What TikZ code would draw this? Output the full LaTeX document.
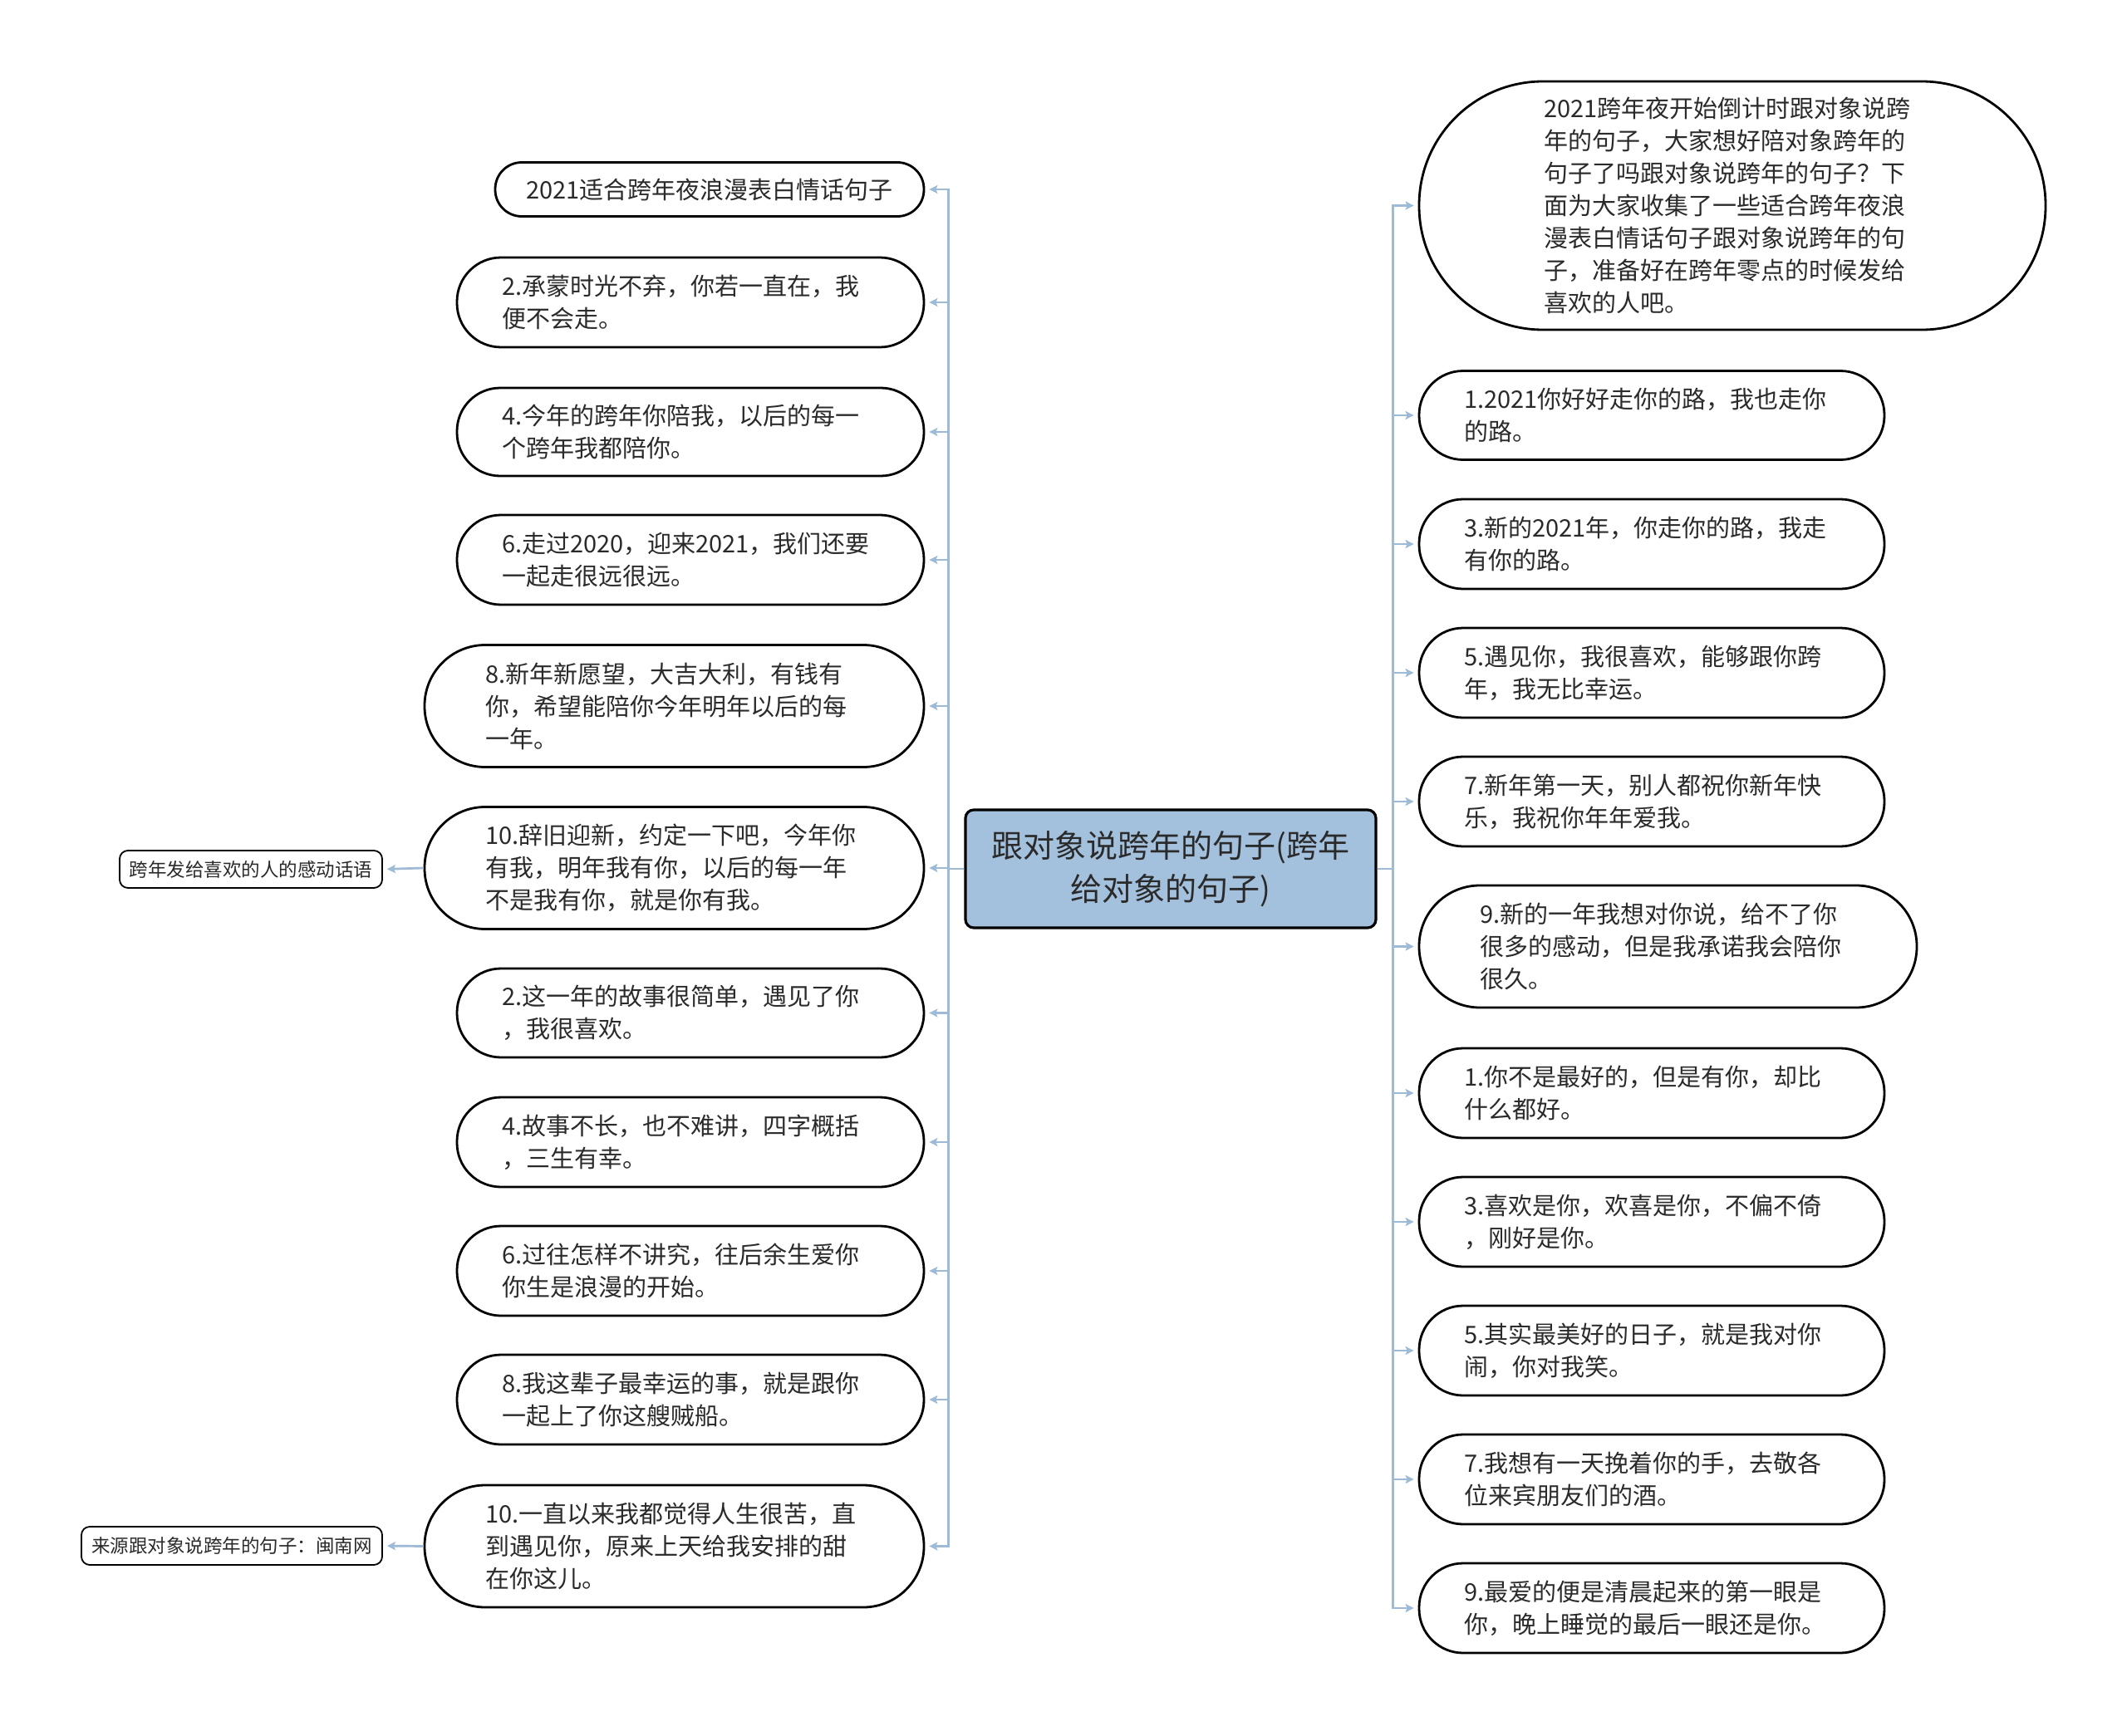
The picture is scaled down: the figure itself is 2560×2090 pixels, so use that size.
\documentclass[tikz,border=0pt]{standalone}
\usepackage{fontspec}
\newfontfamily\cjk{Noto Sans CJK SC}
\usetikzlibrary{arrows.meta}
\definecolor{linkc}{HTML}{9DBAD7}
\definecolor{rootfill}{HTML}{A3C0DC}
\definecolor{txt}{HTML}{2A2A2A}
\tikzset{
  leaf/.style={draw=black, line width=2.8pt, fill=white, text=txt, align=left, inner xsep=0pt, inner ysep=0pt,
    font=\cjk\fontsize{29}{39}\selectfont},
  dims/.style n args={4}{minimum width=#1pt, text width=#2pt, minimum height=#3pt, rounded corners=#4pt},
  small/.style={draw=black, line width=1.8pt, fill=white, text=txt, inner xsep=0pt, inner ysep=0pt,
    rounded corners=10pt, font=\cjk\fontsize{22.5}{28}\selectfont},
  rootbox/.style={draw=black, line width=3.2pt, fill=rootfill, text=txt, align=center, rounded corners=10pt,
    minimum width=494pt, minimum height=142pt, inner sep=0pt, font=\cjk\fontsize{38}{52}\selectfont},
  conn/.style={draw=linkc, line width=2.7pt, -{Stealth[length=10pt,width=10pt,inset=2pt]}, shorten >=5pt}
}
\begin{document}
\begin{tikzpicture}[x=1pt,y=-1pt]
\useasboundingbox (0,0) rectangle (2560,2090);
\fill[white] (0,0) rectangle (2560,2090);

\node[rootbox] (root) at (1409,1046) {跟对象说跨年的句子(跨年\\给对象的句子)};

% left branch
\node[leaf, dims={516}{480}{65}{32}, align=center] (L1) at (854,228) {2021适合跨年夜浪漫表白情话句子};
\node[leaf, dims={562}{454}{108}{53}] (L2) at (831,364) {2.承蒙时光不弃，你若一直在，我\\便不会走。};
\node[leaf, dims={562}{454}{106}{52}] (L3) at (831,520) {4.今年的跨年你陪我，以后的每一\\个跨年我都陪你。};
\node[leaf, dims={562}{454}{108}{53}] (L4) at (831,674) {6.走过2020，迎来2021，我们还要\\一起走很远很远。};
\node[leaf, dims={601}{455}{147}{73}] (L5) at (811.5,850) {8.新年新愿望，大吉大利，有钱有\\你，希望能陪你今年明年以后的每\\一年。};
\node[leaf, dims={601}{455}{147}{73}] (L6) at (811.5,1045) {10.辞旧迎新，约定一下吧，今年你\\有我，明年我有你，以后的每一年\\不是我有你，就是你有我。};
\node[leaf, dims={562}{454}{107}{53}] (L7) at (831,1219.5) {2.这一年的故事很简单，遇见了你\\，我很喜欢。};
\node[leaf, dims={562}{454}{108}{53}] (L8) at (831,1375) {4.故事不长，也不难讲，四字概括\\，三生有幸。};
\node[leaf, dims={562}{454}{108}{53}] (L9) at (831,1530) {6.过往怎样不讲究，往后余生爱你\\你生是浪漫的开始。};
\node[leaf, dims={562}{454}{108}{53}] (L10) at (831,1685) {8.我这辈子最幸运的事，就是跟你\\一起上了你这艘贼船。};
\node[leaf, dims={601}{455}{147}{73}] (L11) at (811.5,1861.5) {10.一直以来我都觉得人生很苦，直\\到遇见你，原来上天给我安排的甜\\在你这儿。};

\node[small, minimum width=316pt, minimum height=45pt] (S1) at (302,1046.5) {跨年发给喜欢的人的感动话语};
\node[small, minimum width=362pt, minimum height=46pt] (S2) at (279,1861) {来源跟对象说跨年的句子：闽南网};

% right branch
\node[leaf, dims={754}{454}{299}{149}] (R0) at (2085,247.5) {2021跨年夜开始倒计时跟对象说跨\\年的句子，大家想好陪对象跨年的\\句子了吗跟对象说跨年的句子？下\\面为大家收集了一些适合跨年夜浪\\漫表白情话句子跟对象说跨年的句\\子，准备好在跨年零点的时候发给\\喜欢的人吧。};
\node[leaf, dims={560}{452}{107}{53}] (R1) at (1988,500) {1.2021你好好走你的路，我也走你\\的路。};
\node[leaf, dims={560}{452}{108}{53}] (R2) at (1988,655) {3.新的2021年，你走你的路，我走\\有你的路。};
\node[leaf, dims={560}{452}{108}{53}] (R3) at (1988,810) {5.遇见你，我很喜欢，能够跟你跨\\年，我无比幸运。};
\node[leaf, dims={560}{452}{108}{53}] (R4) at (1988,965) {7.新年第一天，别人都祝你新年快\\乐，我祝你年年爱我。};
\node[leaf, dims={599}{453}{147}{73}] (R5) at (2007.5,1139.5) {9.新的一年我想对你说，给不了你\\很多的感动，但是我承诺我会陪你\\很久。};
\node[leaf, dims={560}{452}{108}{53}] (R6) at (1988,1316) {1.你不是最好的，但是有你，却比\\什么都好。};
\node[leaf, dims={560}{452}{108}{53}] (R7) at (1988,1471) {3.喜欢是你，欢喜是你，不偏不倚\\，刚好是你。};
\node[leaf, dims={560}{452}{108}{53}] (R8) at (1988,1626) {5.其实最美好的日子，就是我对你\\闹，你对我笑。};
\node[leaf, dims={560}{452}{108}{53}] (R9) at (1988,1781) {7.我想有一天挽着你的手，去敬各\\位来宾朋友们的酒。};
\node[leaf, dims={560}{452}{108}{53}] (R10) at (1988,1936) {9.最爱的便是清晨起来的第一眼是\\你，晚上睡觉的最后一眼还是你。};

% connectors
\foreach \n in {L1,L2,L3,L4,L5,L6,L7,L8,L9,L10,L11}
  \draw[conn] (root.west) -- ++(-19,0) |- (\n.east);
\foreach \n in {R0,R1,R2,R3,R4,R5,R6,R7,R8,R9,R10}
  \draw[conn] (root.east) -- ++(19,0) |- (\n.west);
\draw[conn] (L6.west) -- (S1.east);
\draw[conn] (L11.west) -- (S2.east);
\end{tikzpicture}
\end{document}
